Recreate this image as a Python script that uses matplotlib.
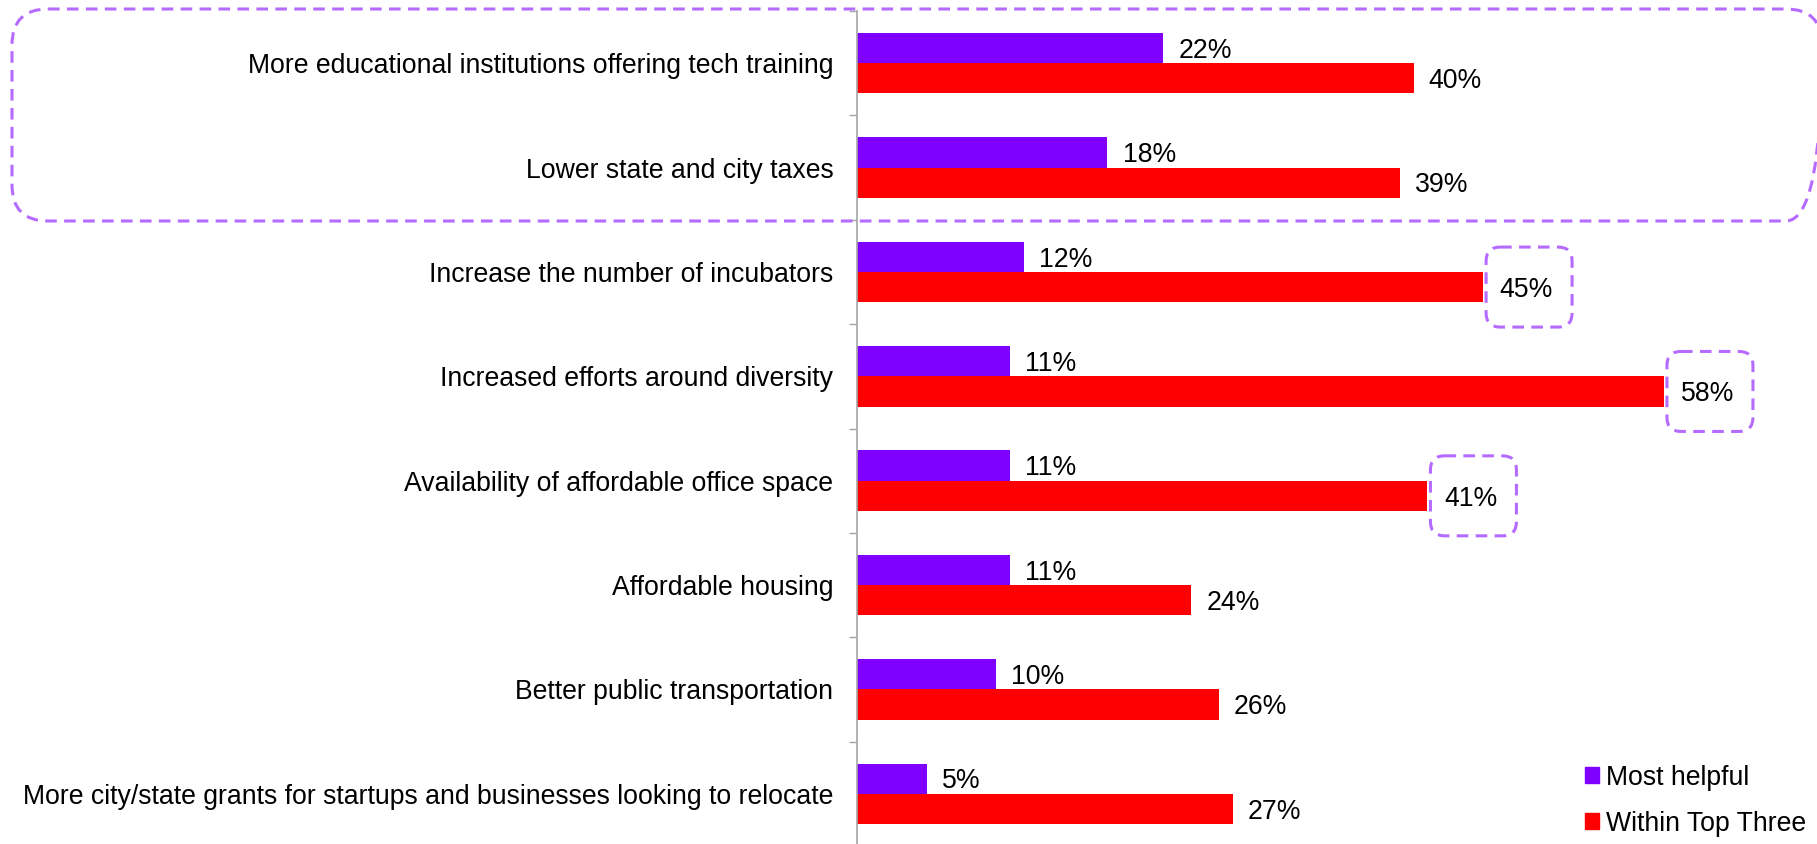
import matplotlib
matplotlib.use("Agg")
import matplotlib.pyplot as plt
from matplotlib.patches import FancyBboxPatch, Patch

# survey results: share of respondents (%)
categories = [
    "More educational institutions offering tech training",
    "Lower state and city taxes",
    "Increase the number of incubators",
    "Increased efforts around diversity",
    "Availability of affordable office space",
    "Affordable housing",
    "Better public transportation",
    "More city/state grants for startups and businesses looking to relocate",
]
most_helpful = [22, 18, 12, 11, 11, 11, 10, 5]
within_top_three = [40, 39, 45, 58, 41, 24, 26, 27]

# red values that get a dashed callout
callout_rows = [2, 3, 4]

PURPLE = "#8000FF"
RED = "#FF0000"
DASH = "#B56BFF"
GRID_GRAY = "#A6A6A6"

plt.rcParams["font.family"] = ["Liberation Sans", "DejaVu Sans"]
FS = 19.2

W, H = 1817, 844
fig = plt.figure(figsize=(W / 100, H / 100), dpi=100, facecolor="white")
ax = fig.add_axes([857 / W, -2 / H, 1 - 857 / W, 835 / H])

n = len(categories)
ys = list(range(n))
h = 0.29
ax.barh([y - h / 2 for y in ys], most_helpful, height=h, color=PURPLE)
ax.barh([y + h / 2 for y in ys], within_top_three, height=h, color=RED)

ax.set_xlim(0, 69)
ax.set_ylim(n - 0.5, -0.5)

# value labels
for i in ys:
    ax.annotate(f"{most_helpful[i]}%", (most_helpful[i], i - h / 2), xytext=(11, -2),
                textcoords="offset points", va="center", ha="left", fontsize=FS)
    off = 12 if i in callout_rows else 11
    ax.annotate(f"{within_top_three[i]}%", (within_top_three[i], i + h / 2), xytext=(off, -2),
                textcoords="offset points", va="center", ha="left", fontsize=FS)

# category labels sit at group centers, ticks mark the group boundaries
ax.set_yticks(ys)
ax.set_yticklabels(categories, fontsize=FS)
ax.tick_params(axis="y", which="major", length=0, pad=17)
ax.set_yticks([y + 0.5 for y in ys[:-1]] + [-0.5], minor=True)
ax.tick_params(axis="y", which="minor", length=6, width=1, color=GRID_GRAY)
ax.set_xticks([])

for side in ["top", "right", "bottom"]:
    ax.spines[side].set_visible(False)
ax.spines["left"].set_color(GRID_GRAY)
ax.spines["left"].set_linewidth(1.2)

# overlay in pixel units for the dashed frames
over = fig.add_axes([0, 0, 1, 1], zorder=5)
over.set_xlim(0, W)
over.set_ylim(H, 0)
over.axis("off")
over.patch.set_alpha(0)

dash_kw = dict(fill=False, edgecolor=DASH, linewidth=2.2, linestyle=(0, (3.8, 2.4)))

fig.canvas.draw()
for i in callout_rows:
    px, py = ax.transData.transform((within_top_three[i], i + h / 2))
    py = H - py
    over.add_patch(FancyBboxPatch((px + 3, py - 40), 86, 80,
                                  boxstyle="round,pad=0,rounding_size=14", **dash_kw))

# big dashed frame around the first two rows
over.add_patch(FancyBboxPatch((12, 9), 1810, 212,
                              boxstyle="round,pad=0,rounding_size=36", **dash_kw))

handles = [Patch(color=PURPLE, label="Most helpful"), Patch(color=RED, label="Within Top Three")]
fig.legend(handles=handles, loc="lower left", bbox_to_anchor=(1574 / W, -0.004),
           frameon=False, fontsize=FS, handlelength=0.55, handleheight=0.55,
           handletextpad=0.25, labelspacing=0.75, borderaxespad=0)

fig.savefig("out.png", dpi=100, facecolor="white")
